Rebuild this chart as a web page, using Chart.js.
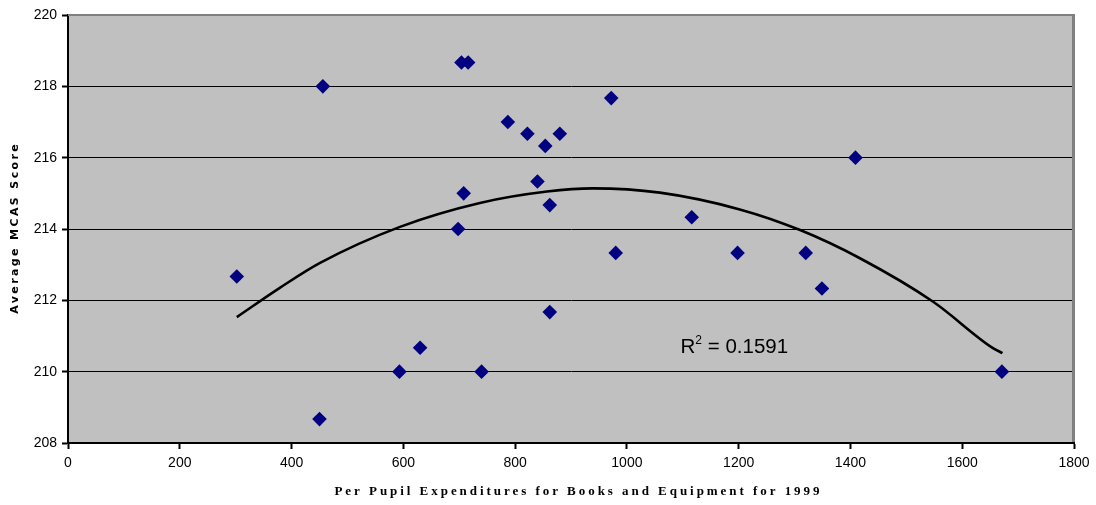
<!DOCTYPE html>
<html>
<head>
<meta charset="utf-8">
<script src="https://cdn.jsdelivr.net/npm/chart.js@4"></script>
<style>
  html, body { margin: 0; padding: 0; background: #fff; }
  #wrap { width: 1096px; height: 505px; }
</style>
</head>
<body>
<div id="wrap"><canvas id="chart"></canvas></div>
<script>
// scatter: per pupil spending vs average MCAS score
const expend = [302, 456, 450, 704, 716, 593, 630, 698, 708, 740, 787, 822, 854, 880, 840, 862, 862, 972, 980, 1116, 1198, 1320, 1349, 1409, 1671];
const scores = [212.67, 218, 208.67, 218.67, 218.67, 210, 210.67, 214, 215, 210, 217, 216.67, 216.33, 216.67, 215.33, 214.67, 211.67, 217.67, 213.33, 214.33, 213.33, 213.33, 212.33, 216, 210];

// polynomial trendline
const trendX = [302, 379, 451, 594, 737, 857, 939, 1059, 1202, 1310, 1417, 1548, 1655, 1672];
const trendY = [211.53, 212.35, 213.05, 214.06, 214.73, 215.05, 215.14, 215.02, 214.55, 213.97, 213.18, 211.96, 210.66, 210.52];

const xTicks = [0, 200, 400, 600, 800, 1000, 1200, 1400, 1600, 1800];
const yTicks = [208, 210, 212, 214, 216, 218, 220];

const rSquared = '0.1591';
const rLabelAt = [1096, 210.53];

const xTitle = 'Per Pupil Expenditures for Books and Equipment for 1999';
const yTitle = 'Average MCAS Score';

const chartDecor = {
  id: 'chartDecor',
  beforeDraw(chart) {
    const { ctx, chartArea: a } = chart;
    ctx.save();
    ctx.fillStyle = '#C0C0C0';
    ctx.fillRect(a.left, a.top, a.right - a.left, a.bottom - a.top);
    ctx.restore();
  },
  afterDraw(chart) {
    const { ctx, chartArea: a, scales } = chart;
    ctx.save();
    // top and right border, grey
    ctx.strokeStyle = '#808080';
    ctx.lineWidth = 2;
    ctx.beginPath();
    ctx.moveTo(a.left, a.top);
    ctx.lineTo(a.right + 1, a.top);
    ctx.stroke();
    ctx.lineWidth = 3;
    ctx.beginPath();
    ctx.moveTo(a.right - 0.5, a.top);
    ctx.lineTo(a.right - 0.5, a.bottom - 1);
    ctx.stroke();

    // R squared label
    const rx = scales.x.getPixelForValue(rLabelAt[0]);
    const ry = scales.y.getPixelForValue(rLabelAt[1]);
    ctx.fillStyle = '#000';
    ctx.textBaseline = 'alphabetic';
    ctx.textAlign = 'left';
    ctx.font = '20.5px "Liberation Sans", Arial, sans-serif';
    ctx.fillText('R', rx, ry);
    const rw = ctx.measureText('R').width;
    ctx.font = '12px "Liberation Sans", Arial, sans-serif';
    ctx.fillText('2', rx + rw, ry - 8.5);
    const sw = ctx.measureText('2').width;
    ctx.font = '20.5px "Liberation Sans", Arial, sans-serif';
    ctx.fillText(' = ' + rSquared, rx + rw + sw, ry);

    // x axis title, letter spaced serif
    ctx.font = 'bold 13px "Liberation Serif", "Times New Roman", serif';
    ctx.letterSpacing = '0px';
    const xw = ctx.measureText(xTitle).width;
    const xSpacing = (488 - xw) / xTitle.length;
    ctx.letterSpacing = xSpacing + 'px';
    ctx.textAlign = 'center';
    ctx.textBaseline = 'middle';
    ctx.fillText(xTitle, (a.left + a.right) / 2 + xSpacing / 2 + 6, 492);

    // y axis title
    ctx.font = 'bold 11px "DejaVu Sans", Arial, sans-serif';
    ctx.letterSpacing = '0px';
    const yw = ctx.measureText(yTitle).width;
    const ySpacing = (172 - yw) / yTitle.length;
    ctx.letterSpacing = ySpacing + 'px';
    ctx.translate(15, 229);
    ctx.rotate(-Math.PI / 2);
    ctx.fillText(yTitle, ySpacing / 2, 0);
    ctx.restore();
  }
};

const ctx = document.getElementById('chart').getContext('2d');
new Chart(ctx, {
  type: 'scatter',
  data: {
    datasets: [
      {
        label: 'Scores',
        data: expend.map((x, i) => ({ x: x, y: scores[i] })),
        pointStyle: 'rectRot',
        pointRadius: 7.3,
        pointHoverRadius: 7.3,
        backgroundColor: '#000080',
        borderColor: '#000080',
        borderWidth: 0
      },
      {
        type: 'line',
        label: 'Trend',
        data: trendX.map((x, i) => ({ x: x, y: trendY[i] })),
        borderColor: '#000',
        borderWidth: 2.6,
        pointRadius: 0,
        cubicInterpolationMode: 'monotone',
        fill: false
      }
    ]
  },
  options: {
    responsive: true,
    maintainAspectRatio: false,
    animation: false,
    layout: {
      padding: { top: 15, right: 22, left: 0, bottom: 0 }
    },
    plugins: {
      legend: { display: false },
      tooltip: { enabled: false }
    },
    scales: {
      x: {
        type: 'linear',
        min: 0,
        max: 1800,
        afterBuildTicks(scale) {
          scale.ticks = xTicks.map(v => ({ value: v }));
        },
        afterFit(scale) { scale.height = 62; },
        ticks: {
          color: '#000',
          padding: 6,
          maxRotation: 0,
          callback: v => String(v),
          font: { family: '"Liberation Sans", Arial, sans-serif', size: 14 }
        },
        grid: {
          drawOnChartArea: false,
          drawTicks: true,
          tickLength: 6,
          tickColor: '#000',
          tickWidth: 2
        },
        border: { display: true, color: '#000', width: 2 }
      },
      y: {
        type: 'linear',
        min: 208,
        max: 220,
        afterBuildTicks(scale) {
          scale.ticks = yTicks.map(v => ({ value: v }));
        },
        afterFit(scale) { scale.width = 68; },
        ticks: {
          color: '#000',
          padding: 5,
          callback: v => String(v),
          font: { family: '"Liberation Sans", Arial, sans-serif', size: 14 }
        },
        grid: {
          color: c => (c.tick && c.tick.value === 220 ? 'rgba(0,0,0,0)' : '#000'),
          lineWidth: 1,
          drawTicks: true,
          tickLength: 6,
          tickColor: '#000',
          tickWidth: 2
        },
        border: { display: true, color: '#000', width: 2 }
      }
    }
  },
  plugins: [chartDecor]
});
</script>
</body>
</html>
